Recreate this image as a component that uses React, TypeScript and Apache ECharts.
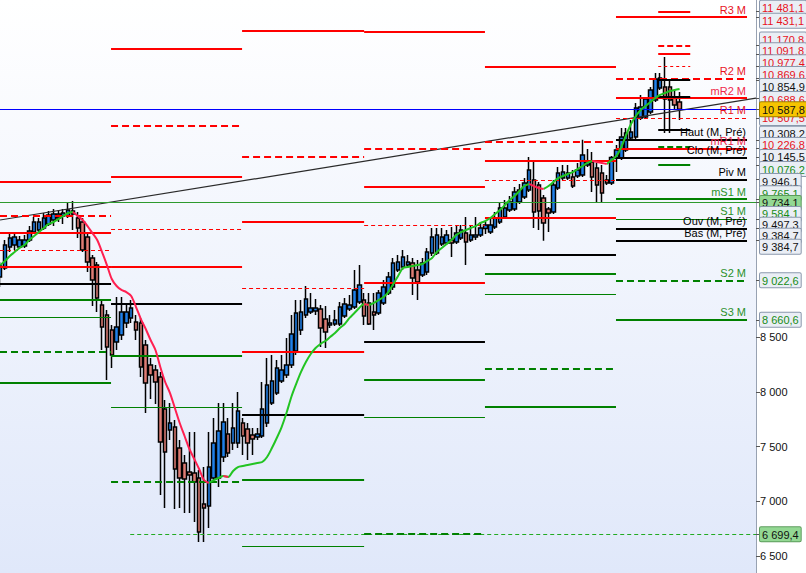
import React, { useEffect, useRef } from "react";
import * as echarts from "echarts";

// ---------- DATA ----------
// daily candles: [open, close, low, high]
const candles: number[][] = [
  [9053, 9153, 8961, 9190], [9135, 9345, 9117, 9391], [9327, 9410, 9281, 9455], [9345, 9419, 9300, 9455],
  [9327, 9391, 9318, 9428], [9336, 9391, 9318, 9437], [9391, 9474, 9373, 9519], [9464, 9556, 9446, 9602],
  [9483, 9556, 9464, 9592], [9501, 9592, 9483, 9638], [9538, 9620, 9519, 9657], [9574, 9629, 9519, 9675],
  [9592, 9629, 9556, 9666], [9611, 9638, 9538, 9675], [9611, 9666, 9592, 9739], [9657, 9629, 9483, 9748],
  [9592, 9501, 9410, 9647], [9556, 9300, 9281, 9592], [9419, 9190, 9098, 9464], [9227, 9025, 8787, 9254],
  [9162, 8861, 8733, 9190], [8797, 8595, 8385, 8842], [8705, 8412, 8110, 8751], [8568, 8339, 8220, 8614],
  [8458, 8595, 8385, 8870], [8522, 8733, 8476, 8870], [8632, 8733, 8586, 8797], [8678, 8769, 8632, 8842],
  [8641, 8568, 8476, 8705], [8632, 8229, 8138, 8678], [8431, 8083, 7808, 8476], [8248, 8156, 7937, 8312],
  [8202, 8092, 7891, 8248], [8138, 7543, 7058, 8184], [7845, 7452, 6939, 7927], [7653, 7717, 7561, 7900],
  [7680, 7296, 6930, 7744], [7488, 7214, 6939, 7561], [7351, 7205, 6894, 7424], [7269, 7241, 6894, 7635],
  [7260, 7177, 6811, 7635], [7214, 6720, 6628, 7287], [6976, 6939, 6628, 7314], [6958, 7314, 6756, 7635],
  [7214, 7534, 7168, 7763], [7214, 7644, 7131, 7900], [7406, 7726, 7360, 7900], [7616, 7442, 7406, 7763],
  [7534, 7671, 7470, 7900], [7534, 7827, 7488, 8001], [7717, 7598, 7424, 7763], [7662, 7534, 7378, 7717],
  [7607, 7571, 7424, 7671], [7589, 7616, 7561, 7671], [7598, 7845, 7580, 8092], [7717, 8065, 7680, 8312],
  [7900, 8101, 7882, 8339], [7991, 8220, 7973, 8293], [8101, 8202, 8083, 8339], [8156, 8248, 8129, 8495],
  [8248, 8531, 8220, 8705], [8376, 8723, 8339, 8842], [8568, 8733, 8522, 8842], [8705, 8851, 8678, 8970],
  [8733, 8769, 8714, 8906], [8742, 8769, 8705, 8851], [8760, 8586, 8412, 8797], [8668, 8550, 8403, 8787],
  [8614, 8632, 8586, 8705], [8623, 8659, 8604, 8751], [8623, 8778, 8604, 8824], [8696, 8806, 8678, 8861],
  [8760, 8797, 8742, 8888], [8778, 8934, 8760, 9117], [8824, 8980, 8806, 9162], [8842, 8696, 8614, 8906],
  [8815, 8623, 8614, 8906], [8733, 8705, 8568, 8906], [8723, 8906, 8705, 8934], [8815, 8961, 8797, 9025],
  [8906, 9053, 8888, 9098], [8961, 9181, 8934, 9227], [9117, 9190, 9098, 9254], [9144, 9236, 9117, 9300],
  [9162, 9190, 9135, 9254], [9181, 9044, 8888, 9227], [9117, 9007, 8842, 9208], [9071, 9181, 9053, 9227],
  [9098, 9281, 9071, 9318], [9272, 9419, 9245, 9501], [9272, 9437, 9254, 9501], [9355, 9419, 9336, 9501],
  [9364, 9437, 9345, 9483], [9391, 9364, 9236, 9510], [9373, 9455, 9355, 9528], [9410, 9483, 9391, 9528],
  [9455, 9373, 9162, 9602], [9391, 9437, 9373, 9528], [9419, 9437, 9391, 9602], [9437, 9501, 9419, 9556],
  [9497, 9528, 9446, 9556], [9464, 9528, 9446, 9592], [9510, 9592, 9492, 9647], [9556, 9684, 9538, 9730],
  [9602, 9684, 9583, 9757], [9666, 9739, 9647, 9794], [9675, 9830, 9657, 9876], [9739, 9849, 9721, 9904],
  [9785, 9913, 9766, 9958], [9849, 10032, 9830, 10151], [9940, 9647, 9501, 10123], [9894, 9657, 9483, 9922],
  [9775, 9547, 9385, 9803], [9675, 9638, 9464, 9693], [9647, 9894, 9629, 9940], [9867, 10004, 9849, 10059],
  [9958, 10013, 9940, 10077], [9958, 10004, 9940, 10077], [9968, 9885, 9867, 10032], [9977, 10032, 9958, 10096],
  [9986, 10169, 9968, 10308], [10077, 10105, 10059, 10224], [10105, 9968, 9830, 10196], [10050, 9894, 9730, 10096],
  [10004, 9821, 9730, 10077], [9940, 9913, 9894, 9986], [9913, 10145, 9894, 10160], [10140, 10215, 10013, 10260],
  [10141, 10334, 10123, 10416], [10215, 10370, 10196, 10416], [10324, 10379, 10306, 10489], [10334, 10599, 10315, 10645],
  [10507, 10608, 10489, 10718], [10517, 10681, 10498, 10700], [10562, 10764, 10544, 10791], [10672, 10864, 10654, 10919],
  [10782, 10873, 10764, 10919], [10791, 10681, 10370, 11065], [10791, 10672, 10370, 10855], [10690, 10626, 10581, 10764],
  [10654, 10587.8, 10489, 10745],
];

// moving average, one value per candle
const maValues: number[] = [
  9162, 9199, 9245, 9281, 9318, 9345, 9391, 9428, 9464, 9501,
  9538, 9556, 9583, 9611, 9638, 9647, 9611, 9574, 9519, 9455,
  9391, 9281, 9162, 9034, 8970, 8934, 8915, 8879, 8778, 8668,
  8577, 8476, 8385, 8229, 8092, 7991, 7854, 7717, 7598, 7479,
  7388, 7296, 7195, 7168, 7195, 7214, 7232, 7223, 7278, 7314,
  7324, 7333, 7342, 7351, 7360, 7406, 7488, 7580, 7680, 7808,
  7955, 8074, 8184, 8275, 8348, 8403, 8440, 8467, 8504, 8540,
  8586, 8623, 8678, 8723, 8769, 8806, 8797, 8815, 8842, 8870,
  8915, 8989, 9062, 9135, 9144, 9153, 9162, 9172, 9199, 9227,
  9281, 9318, 9355, 9391, 9437, 9464, 9483, 9501, 9519, 9547,
  9565, 9592, 9629, 9666, 9711, 9757, 9794, 9840, 9885, 9904,
  9885, 9867, 9858, 9885, 9922, 9958, 9977, 9995, 10013, 10041,
  10068, 10096, 10114, 10105, 10096, 10087, 10123, 10160, 10242, 10352,
  10452, 10526, 10581, 10617, 10654, 10690, 10718, 10736, 10754, 10764,
  10773,
];

// monthly pivot periods (bounds in candle-index units) and their levels
const monthBounds = [-0.03, 22.85, 49.85, 75, 99.9, 126.9, 153.9];
const r3 = [9922, 11139, 11303, 11294, 10974, 11431.1];
const r2 = [9611, 10434, 10151, 10224, 10288, 10869.6];
const mr2 = [9455, 9968, 9556, 9876, 10114, 10688.6];
const r1 = [9300, 9492, 8952, 9528, 9940, 10507.5];
const mr1 = [9144, 9144, 8367, 8998, 9592, 10226.8];
const piv = [8989, 8806, 7790, 8458, 9254, 9946.1];
const ms1 = [8842, 8330, 7195, 8110, 9080, 9765.1];
const s1 = [8687, 7863, 6592, 7772, 8897, 9584.1];
const s2 = [8367, 7177, null, 6699.4, 8211, 9022.6];
const s3 = [8083, null, null, null, 7863, 8660.6];

// previous month high / close / open / low
const prevNames = ["Haut (M, Pré)", "Clo (M, Pré)", "Ouv (M, Pré)", "Bas (M, Pré)"];
const prevValues = [10308.2, 10145.5, 9497.3, 9384.7];

// weekly levels (short segments)
const weekBounds = [135.6, 142.2];
const weekValues = [11481.1, 11170.8, 11091.8, 10977.4, 10854.9, 10700, 10398, 10242, 10076.2];
const weekKinds = ["rs", "rd", "rs", "rt", "k", "k", "k", "gd", "gs"];

// other lines
const lastPrice = 10587.8;
const supportLine = 9734.1;
const lowLine = 6699.4;
const lowLineStart = 26.8;
const trendStart = [-0.03, 9574];
const trendEnd = [155.75, 10690];

// right axis tags
const plainTicks = [6500, 7000, 7500, 8000, 8500];
const tagValues = [11481.1, 11431.1, 11170.8, 11091.8, 10977.4, 10869.6, 10854.9, 10688.6, 10507.5, 10308.2, 10226.8, 10145.5, 10076.2, 9946.1, 9765.1, 9734.1, 9584.1, 9497.3, 9384.7, 9384.7, 9022.6, 8660.6, 6699.4, 10587.8];
const tagKinds = ["red", "red", "red", "red", "red", "red", "black", "red", "red", "black", "red", "black", "green", "black", "green", "gfill", "green", "black", "black", "black", "green", "green", "gfill", "yellow"];

// ---------- CHART ----------
const X_MIN = -0.03;
const X_MAX = 155.75;
const Y_MIN = 6344.5;
const Y_MAX = 11587;
const CH = 573;
const RED = "#ff0000";
const BLACK = "#000000";
const GREEN = "#008000";
const FONT = "Liberation Sans, Arial, sans-serif";

function fmt(v: number, dec: number) {
  const s = v.toFixed(dec);
  const [ip, fp] = s.split(".");
  const sp = ip.replace(/\B(?=(\d{3})+(?!\d))/g, " ");
  return fp ? sp + "," + fp : sp;
}

function seg(x0: number, x1: number, v: number, lineStyle: any, label?: any) {
  return [
    { coord: [x0, v], lineStyle, label: label || { show: false } },
    { coord: [x1, v] },
  ];
}

// spread overlapping axis tags a little (label layout only)
function spreadTags() {
  const k = CH / (Y_MAX - Y_MIN);
  const ys = tagValues.map((v) => (Y_MAX - v) * k);
  const pos = ys.slice();
  const fixed = tagKinds.map((t) => t === "yellow");
  const order = ys.map((_, i) => i).filter((i) => !fixed[i]).sort((a, b) => ys[a] - ys[b]);
  const GAP = 13;
  const CAP = 6;
  for (let it = 0; it < 40; it++) {
    for (let j = 0; j < order.length - 1; j++) {
      const a = order[j];
      const b = order[j + 1];
      const gap = pos[b] - pos[a];
      if (gap < GAP) {
        const d = (GAP - gap) / 2;
        pos[a] = Math.max(ys[a] - CAP, pos[a] - d);
        pos[b] = Math.min(ys[b] + CAP, pos[b] + d);
      }
    }
  }
  return pos.map((p) => Y_MAX - p / k);
}

function buildOption() {
  const levels = [
    { vals: r3, name: "R3 M", color: RED, width: 2, type: "solid", lc: "#e8141e" },
    { vals: r2, name: "R2 M", color: RED, width: 2, type: [7, 4], lc: "#e8141e" },
    { vals: mr2, name: "mR2 M", color: RED, width: 2, type: "solid", lc: "#f0284a" },
    { vals: r1, name: "R1 M", color: RED, width: 1.2, type: [4, 3], lc: "#e8141e" },
    { vals: mr1, name: "mR1 M", color: RED, width: 2, type: "solid", lc: "#f0284a" },
    { vals: piv, name: "Piv M", color: BLACK, width: 2, type: "solid", lc: "#000" },
    { vals: ms1, name: "mS1 M", color: GREEN, width: 2, type: "solid", lc: "#2a902a" },
    { vals: s1, name: "S1 M", color: GREEN, width: 1, type: "solid", lc: "#2a902a" },
    { vals: s2, name: "S2 M", color: GREEN, width: 2, type: [7, 4], lc: "#2a902a" },
    { vals: s3, name: "S3 M", color: GREEN, width: 2, type: "solid", lc: "#2a902a" },
  ];
  const last = monthBounds.length - 2;
  const lbl = (text: string, color: string) => ({
    show: true,
    position: "insideEndTop",
    formatter: text,
    color,
    fontSize: 11,
    fontFamily: FONT,
    distance: [1, 2],
  });
  const mlData: any[] = [];
  mlData.push([
    { coord: trendStart, lineStyle: { color: "#2a2a2a", width: 1.2, type: "solid" }, label: { show: false } },
    { coord: trendEnd },
  ]);
  mlData.push(seg(X_MIN, X_MAX, supportLine, { color: "#2e9a2e", width: 1, type: "solid" }));
  mlData.push(seg(lowLineStart, X_MAX, lowLine, { color: "#22aa22", width: 1, type: [4, 3] }));

  levels.forEach((lv) => {
    lv.vals.forEach((v, m) => {
      if (v == null) return;
      mlData.push(
        seg(monthBounds[m], monthBounds[m + 1], v as number,
          { color: lv.color, width: lv.width, type: lv.type },
          m === last ? lbl(lv.name, lv.lc) : undefined)
      );
    });
  });
  prevValues.forEach((v, k) => {
    mlData.push(seg(monthBounds[last], monthBounds[last + 1], v, { color: BLACK, width: 2, type: "solid" }, lbl(prevNames[k], "#000")));
  });
  const wk: Record<string, any> = {
    rs: { color: RED, width: 2, type: "solid" },
    rd: { color: RED, width: 2, type: [6, 3] },
    rt: { color: RED, width: 1, type: [3, 3] },
    k: { color: BLACK, width: 2, type: "solid" },
    gd: { color: GREEN, width: 2, type: [6, 3] },
    gs: { color: GREEN, width: 2, type: "solid" },
  };
  weekValues.forEach((v, k) => {
    mlData.push(seg(weekBounds[0], weekBounds[1], v, wk[weekKinds[k]]));
  });
  mlData.push(seg(X_MIN, X_MAX, lastPrice, { color: "#0000ff", width: 1, type: "solid" }));

  const maUp: any[] = [];
  const maDown: any[] = [];
  maValues.forEach((v, i) => {
    const upPrev = i > 0 && v > maValues[i - 1];
    const upNext = i < maValues.length - 1 && maValues[i + 1] > v;
    const dnPrev = i > 0 && v < maValues[i - 1];
    const dnNext = i < maValues.length - 1 && maValues[i + 1] < v;
    maUp.push([i, upPrev || upNext ? v : "-"]);
    maDown.push([i, dnPrev || dnNext ? v : "-"]);
  });

  const shifted = spreadTags();
  const labelMap = new Map<string, number>();
  shifted.forEach((v, i) => labelMap.set(v.toFixed(6), i));
  const labelVals = [...plainTicks, ...shifted];
  const tickVals = [...plainTicks, ...tagValues];

  const box = {
    backgroundColor: "#eaeef5",
    borderColor: "#8a98ad",
    borderWidth: 1,
    borderRadius: 1,
    padding: [2, 2, 1, 2],
    fontSize: 11,
    lineHeight: 11,
    fontFamily: FONT,
  };

  return {
    animation: false,
    backgroundColor: "#ffffff",
    textStyle: { fontFamily: FONT },
    grid: {
      show: true,
      left: 0,
      right: 50,
      top: 0,
      bottom: 0,
      containLabel: false,
      outerBoundsMode: "none",
      borderWidth: 0,
      backgroundColor: new echarts.graphic.LinearGradient(0, 0, 0, 1, [
        { offset: 0, color: "#ffffff" },
        { offset: 1, color: "#e0e8fa" },
      ]),
    },
    xAxis: { type: "value", min: X_MIN, max: X_MAX, show: false },
    yAxis: {
      type: "value",
      position: "right",
      min: Y_MIN,
      max: Y_MAX,
      splitLine: { show: false },
      axisLine: { show: true, onZero: false, lineStyle: { color: "#98a2b2", width: 1 } },
      axisTick: { show: true, length: 4, lineStyle: { color: "#555" }, customValues: tickVals },
      axisLabel: {
        customValues: labelVals,
        margin: 4,
        fontSize: 11,
        fontFamily: FONT,
        color: "#111",
        formatter: (value: number) => {
          const idx = labelMap.get(Number(value).toFixed(6));
          if (idx == null) return fmt(value, 0);
          return "{" + tagKinds[idx] + "|" + fmt(tagValues[idx], 1) + "}";
        },
        rich: {
          red: { ...box, color: "#e8121c" },
          black: { ...box, color: "#111111" },
          green: { ...box, color: "#168c16" },
          gfill: { ...box, color: "#111111", backgroundColor: "#93d893", borderColor: "#5c9c5c" },
          yellow: { ...box, color: "#111111", backgroundColor: "#f6c400", borderColor: "#9a7c00" },
        },
      },
    },
    series: [
      {
        type: "candlestick",
        data: candles.map((c, i) => [i, c[0], c[1], c[2], c[3]]),
        barWidth: 4,
        z: 2,
        silent: true,
        itemStyle: {
          color: "#1f80ea",
          color0: "#df7d74",
          borderColor: "#000000",
          borderColor0: "#000000",
          borderWidth: 1.5,
        },
      },
      {
        type: "line",
        data: [],
        silent: true,
        z: 3,
        markLine: {
          silent: true,
          symbol: ["none", "none"],
          animation: false,
          label: { show: false },
          emphasis: { disabled: true },
          data: mlData,
        },
      },
      {
        type: "line",
        data: maUp,
        showSymbol: false,
        smooth: 0.3,
        connectNulls: false,
        silent: true,
        z: 10,
        lineStyle: { color: "#22c422", width: 2 },
      },
      {
        type: "line",
        data: maDown,
        showSymbol: false,
        smooth: 0.3,
        connectNulls: false,
        silent: true,
        z: 10,
        lineStyle: { color: "#ff2050", width: 2 },
      },
    ],
  };
}

export default function App() {
  const ref = useRef<HTMLDivElement>(null);
  useEffect(() => {
    const chart = echarts.init(ref.current as HTMLDivElement, null, { renderer: "svg" });
    chart.setOption(buildOption() as any);
    return () => chart.dispose();
  }, []);
  return (
    <div
      ref={ref}
      style={{ position: "fixed", left: 0, top: 0, width: 806, height: 573, background: "#fff" }}
    />
  );
}
